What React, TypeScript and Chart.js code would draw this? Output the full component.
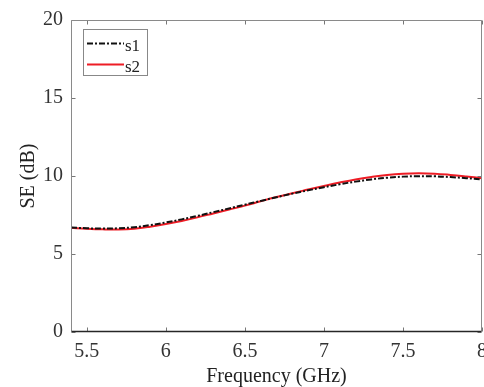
import React, { useEffect, useRef } from "react";
import { Chart, registerables } from "chart.js";

Chart.register(...registerables);

const freq = [5.4, 5.5, 5.6, 5.7, 5.8, 5.9, 6.0, 6.1, 6.2, 6.3, 6.4, 6.5, 6.6, 6.7, 6.8, 6.9, 7.0, 7.1, 7.2, 7.3, 7.4, 7.5, 7.6, 7.7, 7.8, 7.9, 8.0];
const s1 = [6.7, 6.65, 6.63, 6.65, 6.72, 6.85, 7.02, 7.22, 7.44, 7.68, 7.92, 8.16, 8.4, 8.64, 8.87, 9.08, 9.28, 9.47, 9.64, 9.78, 9.89, 9.96, 9.99, 9.98, 9.93, 9.86, 9.78];
const s2 = [6.68, 6.62, 6.58, 6.57, 6.62, 6.75, 6.92, 7.12, 7.35, 7.6, 7.85, 8.1, 8.38, 8.65, 8.9, 9.13, 9.36, 9.58, 9.78, 9.94, 10.07, 10.15, 10.18, 10.15, 10.07, 9.97, 9.86];
const xTickValues = [5.5, 6, 6.5, 7, 7.5, 8];
const yTickValues = [0, 5, 10, 15, 20];
const seriesNames = ["s1", "s2"];
const xTitle = "Frequency (GHz)";
const yTitle = "SE (dB)";

const FONT = '"Liberation Serif", "Times New Roman", serif';

const boxPlugin = {
  id: "matlabBox",
  afterDatasetsDraw(chart: any) {
    const { ctx, chartArea, scales } = chart;
    const { left, right, top, bottom } = chartArea;
    const x = scales.x;
    const y = scales.y;
    ctx.save();
    const L = Math.round(left) + 0.5;
    const R = Math.round(right) - 0.5;
    const T = Math.round(top) + 0.5;
    const B = Math.round(bottom) - 0.5;
    // ticks
    ctx.strokeStyle = "#777";
    ctx.lineWidth = 1;
    ctx.beginPath();
    for (const v of xTickValues) {
      const px = Math.round(x.getPixelForValue(v)) + 0.5;
      ctx.moveTo(px, B);
      ctx.lineTo(px, B - 4);
      ctx.moveTo(px, T);
      ctx.lineTo(px, T + 4);
    }
    for (const v of yTickValues) {
      const py = Math.round(y.getPixelForValue(v)) + 0.5;
      ctx.moveTo(L, py);
      ctx.lineTo(L + 4, py);
      ctx.moveTo(R, py);
      ctx.lineTo(R - 4, py);
    }
    ctx.stroke();
    // box
    ctx.strokeStyle = "#8a8a8a";
    ctx.beginPath();
    ctx.moveTo(L, B);
    ctx.lineTo(L, T);
    ctx.lineTo(R, T);
    ctx.lineTo(R, B);
    ctx.stroke();
    ctx.strokeStyle = "#262626";
    ctx.lineWidth = 1.5;
    ctx.beginPath();
    ctx.moveTo(L, B);
    ctx.lineTo(R, B);
    ctx.stroke();

    // legend
    const lx = 83.5, ly = 29.5, lw = 64, lh = 46;
    ctx.fillStyle = "#fff";
    ctx.fillRect(lx, ly, lw, lh);
    ctx.strokeStyle = "#888";
    ctx.lineWidth = 1;
    ctx.strokeRect(lx, ly, lw, lh);
    const ds = chart.data.datasets;
    const rows = [43.5, 64.5];
    ds.forEach((d: any, i: number) => {
      ctx.save();
      ctx.strokeStyle = d.borderColor;
      ctx.lineWidth = d.borderWidth;
      ctx.setLineDash(d.borderDash || []);
      ctx.beginPath();
      ctx.moveTo(87, rows[i]);
      ctx.lineTo(124, rows[i]);
      ctx.stroke();
      ctx.restore();
      ctx.fillStyle = "#222";
      ctx.font = `17px ${FONT}`;
      ctx.textBaseline = "alphabetic";
      ctx.textAlign = "left";
      ctx.fillText(seriesNames[i], 125, rows[i] + 7);
    });
    ctx.restore();
  },
};

export default function App() {
  const ref = useRef<HTMLCanvasElement>(null);
  useEffect(() => {
    const chart = new Chart(ref.current as HTMLCanvasElement, {
      type: "line",
      data: {
        datasets: [
          {
            label: seriesNames[0],
            data: freq.map((f, i) => ({ x: f, y: s1[i] })),
            borderColor: "#111",
            borderWidth: 2,
            borderDash: [6, 2, 2, 2],
            pointRadius: 0,
            tension: 0.4,
            fill: false,
            order: 1,
          },
          {
            label: seriesNames[1],
            data: freq.map((f, i) => ({ x: f, y: s2[i] })),
            borderColor: "#ee1c25",
            borderWidth: 2,
            pointRadius: 0,
            tension: 0.4,
            fill: false,
            order: 2,
          },
        ],
      },
      options: {
        animation: false,
        responsive: false,
        devicePixelRatio: 1,
        layout: { padding: { left: 0, right: 2, top: 20, bottom: 0 } },
        plugins: { legend: { display: false }, tooltip: { enabled: false } },
        scales: {
          x: {
            type: "linear",
            min: 5.4,
            max: 8,
            grid: { display: false, drawTicks: false },
            border: { display: false },
            afterBuildTicks: (s: any) => {
              s.ticks = xTickValues.map((v) => ({ value: v }));
            },
            afterFit: (s: any) => {
              s.height = 55;
              s.paddingLeft = 0;
              s.paddingRight = 0;
            },
            ticks: {
              autoSkip: false,
              maxRotation: 0,
              padding: 8,
              color: "#333",
              font: { family: FONT, size: 20 },
              callback: (v: any) => String(v),
            },
            title: {
              display: true,
              text: xTitle,
              color: "#222",
              font: { family: FONT, size: 20 },
              padding: { top: 0, bottom: -2 },
            },
          },
          y: {
            type: "linear",
            min: 0,
            max: 20,
            grid: { display: false, drawTicks: false },
            border: { display: false },
            afterBuildTicks: (s: any) => {
              s.ticks = yTickValues.map((v) => ({ value: v }));
            },
            afterFit: (s: any) => {
              s.width = 71;
              s.paddingTop = 0;
              s.paddingBottom = 0;
            },
            ticks: {
              padding: 8,
              color: "#333",
              font: { family: FONT, size: 20 },
              callback: (v: any) => String(v),
            },
            title: {
              display: true,
              text: yTitle,
              color: "#222",
              font: { family: FONT, size: 20 },
              padding: { top: 17, bottom: 0 },
            },
          },
        },
      },
      plugins: [boxPlugin],
    });
    return () => chart.destroy();
  }, []);
  return (
    <div style={{ position: "absolute", left: 0, top: 0, width: 484, height: 387, background: "#fff" }}>
      <canvas ref={ref} width={484} height={387} style={{ display: "block", width: 484, height: 387 }} />
    </div>
  );
}
